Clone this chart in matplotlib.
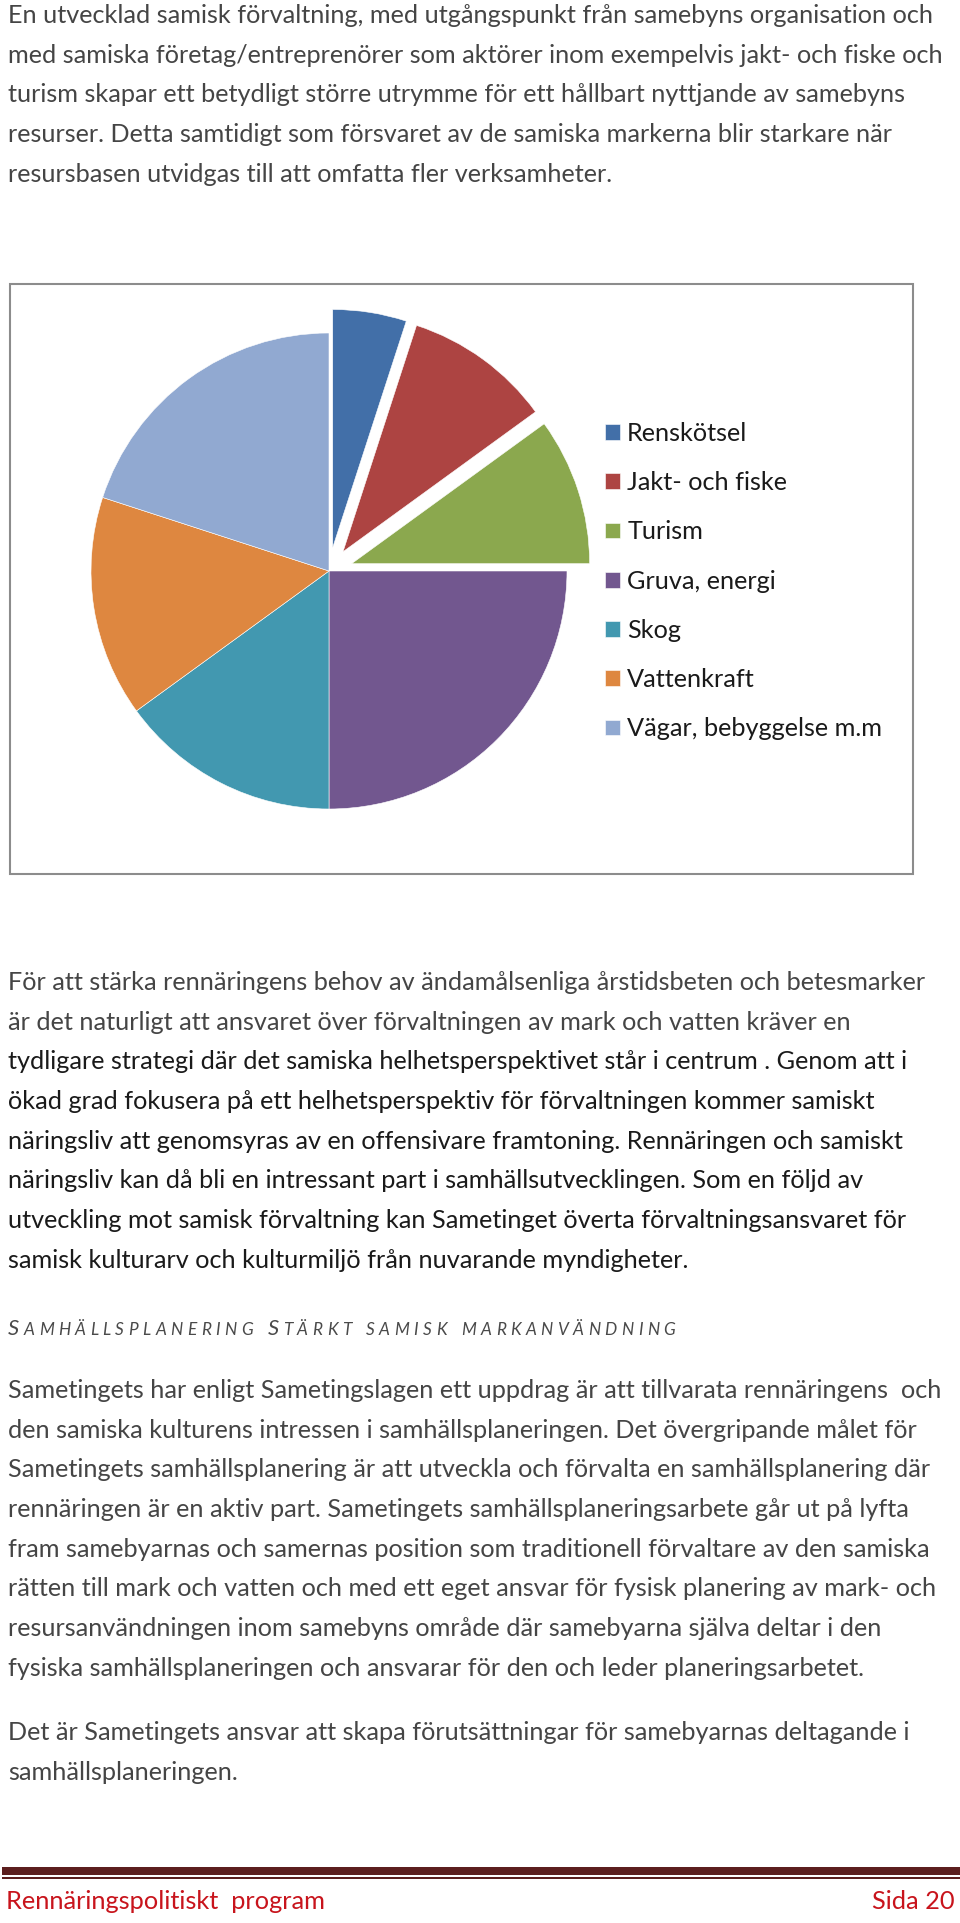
# -*- coding: utf-8 -*-
# Sida 20 ur Rennäringspolitiskt program: text + cirkeldiagram över markanvändning

import matplotlib
matplotlib.use('Agg')
import matplotlib.pyplot as plt
from matplotlib.patches import Rectangle

plt.rcParams['font.family'] = ['Lato', 'DejaVu Sans']

# --- diagramdata ---
labels = ['Renskötsel', 'Jakt- och fiske', 'Turism', 'Gruva, energi',
          'Skog', 'Vattenkraft', 'Vägar, bebyggelse m.m']
values = [5, 10, 10, 25, 15, 15, 20]
explode = [0.1, 0.1, 0.1, 0, 0, 0, 0]
colors = ['#426fa8', '#ad4442', '#8ba84e', '#72578f', '#4298b0', '#de8740', '#91a9d1']

# --- text ---
para1 = [
    "En utvecklad samisk förvaltning, med utgångspunkt från samebyns organisation och",
    "med samiska företag/entreprenörer som aktörer inom exempelvis jakt- och fiske och",
    "turism skapar ett betydligt större utrymme för ett hållbart nyttjande av samebyns",
    "resurser. Detta samtidigt som försvaret av de samiska markerna blir starkare när",
    "resursbasen utvidgas till att omfatta fler verksamheter.",
]
para2 = [
    "För att stärka rennäringens behov av ändamålsenliga årstidsbeten och betesmarker",
    "är det naturligt att ansvaret över förvaltningen av mark och vatten kräver en",
    "tydligare strategi där det samiska helhetsperspektivet står i centrum . Genom att i",
    "ökad grad fokusera på ett helhetsperspektiv för förvaltningen kommer samiskt",
    "näringsliv att genomsyras av en offensivare framtoning. Rennäringen och samiskt",
    "näringsliv kan då bli en intressant part i samhällsutvecklingen. Som en följd av",
    "utveckling mot samisk förvaltning kan Sametinget överta förvaltningsansvaret för",
    "samisk kulturarv och kulturmiljö från nuvarande myndigheter.",
]
heading = [("S", True), ("AMHÄLLSPLANERING ", False), ("S", True), ("TÄRKT SAMISK MARKANVÄNDNING", False)]
para3 = [
    "Sametingets har enligt Sametingslagen ett uppdrag är att tillvarata rennäringens  och",
    "den samiska kulturens intressen i samhällsplaneringen. Det övergripande målet för",
    "Sametingets samhällsplanering är att utveckla och förvalta en samhällsplanering där",
    "rennäringen är en aktiv part. Sametingets samhällsplaneringsarbete går ut på lyfta",
    "fram samebyarnas och samernas position som traditionell förvaltare av den samiska",
    "rätten till mark och vatten och med ett eget ansvar för fysisk planering av mark- och",
    "resursanvändningen inom samebyns område där samebyarna själva deltar i den",
    "fysiska samhällsplaneringen och ansvarar för den och leder planeringsarbetet.",
]
para4 = [
    "Det är Sametingets ansvar att skapa förutsättningar för samebyarnas deltagande i",
    "samhällsplaneringen.",
]
footer_left = "Rennäringspolitiskt  program"
footer_right = "Sida 20"

W, H = 960, 1923
fig = plt.figure(figsize=(W / 100, H / 100), dpi=100)
page = fig.add_axes([0, 0, 1, 1])
page.set_xlim(0, W)
page.set_ylim(H, 0)
page.axis('off')
renderer = fig.canvas.get_renderer()


def fit_size(text, target, base=16, **kw):
    t = page.text(0, 0, text, fontsize=base, **kw)
    w = t.get_window_extent(renderer).width
    t.remove()
    return base * target / w


body_fs = fit_size(para1[0], 931)
GRAY = '#454545'
DARK = '#1a1a1a'
LEAD = 39.7


def draw_lines(lines, y0, colors_):
    for i, line in enumerate(lines):
        page.text(8, y0 + i * LEAD, line, fontsize=body_fs, color=colors_[i],
                  va='baseline', ha='left')


draw_lines(para1, 23, [GRAY] * len(para1))
draw_lines(para2, 990, [GRAY, GRAY] + [DARK] * 6)
draw_lines(para3, 1398, [GRAY] * len(para3))
draw_lines(para4, 1740, [GRAY] * len(para4))

# rubrik i kapitäler, kursiv, spärrad
x = 8
big, small, track = 15.8, 12.4, 4.4
for run, is_big in heading:
    for ch in run:
        fs = big if is_big else small
        if ch == ' ':
            x += 6 + track
            continue
        t = page.text(x, 1335, ch, fontsize=fs, style='italic', color='#4a4a4a',
                      va='baseline', ha='left')
        x += t.get_window_extent(renderer).width + track

# diagramram
page.add_patch(Rectangle((10, 284), 903, 590, fill=False, edgecolor='#8c8c8c', lw=1.5))

# cirkeldiagram
cx, cy, r = 329, 571, 238
half = 1.2 * r
ax = fig.add_axes([(cx - half) / W, (H - cy - half) / H, 2 * half / W, 2 * half / H])
ax.axis('off')
wedges, _ = ax.pie(values, explode=explode, colors=colors, startangle=90,
                   counterclock=False, radius=1,
                   wedgeprops=dict(edgecolor='white', linewidth=0.4))
ax.set_xlim(-1.2, 1.2)
ax.set_ylim(-1.2, 1.2)

leg_fs = fit_size(labels[-1], 256)
page.legend(wedges, labels, loc='upper left', bbox_to_anchor=(605, 422),
            bbox_transform=page.transData, frameon=False, fontsize=leg_fs,
            handlelength=0.58, handleheight=0.58, handletextpad=0.3,
            labelspacing=1.04, borderpad=0, borderaxespad=0,
            labelcolor='#1a1a1a')

# sidfot
page.add_patch(Rectangle((2, 1867), 958, 8, color='#5c1f1f', lw=0))
page.add_patch(Rectangle((2, 1877), 958, 1.6, color='#5c1f1f', lw=0))
foot_fs = fit_size(footer_left, 322)
page.text(6, 1909, footer_left, fontsize=foot_fs, color='#c8141c', va='baseline', ha='left')
page.text(955, 1909, footer_right, fontsize=foot_fs, color='#c8141c', va='baseline', ha='right')

fig.savefig('out.png', dpi=100, facecolor='white')
